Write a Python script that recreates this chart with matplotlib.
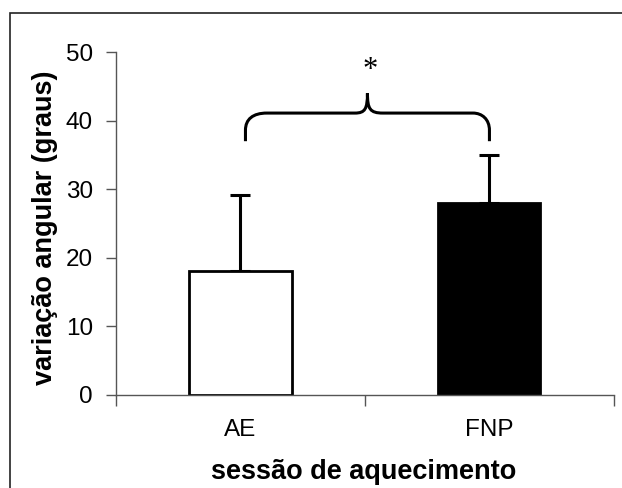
import matplotlib
matplotlib.use("Agg")
import matplotlib.pyplot as plt
from matplotlib.patches import Rectangle, PathPatch
from matplotlib.path import Path

plt.rcParams["font.family"] = ["Liberation Sans", "DejaVu Sans"]

categories = ["AE", "FNP"]
means = [18.1, 28.0]
sd_upper = [11.1, 7.0]
bar_colors = ["white", "black"]
y_ticks = [0, 10, 20, 30, 40, 50]

fig = plt.figure(figsize=(6.22, 4.88), dpi=100)
ax = fig.add_axes([0.1865, 0.1906, 0.8005, 0.7028])

x = list(range(len(categories)))
ax.bar(
    x,
    means,
    width=0.41,
    color=bar_colors,
    edgecolor="black",
    linewidth=2,
    zorder=2,
)
ax.errorbar(
    x,
    means,
    yerr=[[0] * len(means), sd_upper],
    fmt="none",
    ecolor="black",
    elinewidth=2.2,
    capsize=7,
    capthick=2.2,
    zorder=1,
)

# brace connecting the two groups
xl, xr, xm = x[0] + 0.02, x[1], 0.51
yb, yc, yh, yp = 37.0, 38.6, 41.1, 44.0
verts = [
    (xl, yb), (xl, yc),
    (xl, yh - 0.9), (xl + 0.03, yh), (xl + 0.086, yh),
    (xm - 0.05, yh),
    (xm - 0.01, yh), (xm, yh + 0.6), (xm, yp),
    (xm, yh + 0.6), (xm + 0.01, yh), (xm + 0.062, yh),
    (xr - 0.066, yh),
    (xr - 0.03, yh), (xr, yh - 0.9), (xr, yc),
    (xr, yb),
]
codes = [
    Path.MOVETO, Path.LINETO,
    Path.CURVE4, Path.CURVE4, Path.CURVE4,
    Path.LINETO,
    Path.CURVE4, Path.CURVE4, Path.CURVE4,
    Path.CURVE4, Path.CURVE4, Path.CURVE4,
    Path.LINETO,
    Path.CURVE4, Path.CURVE4, Path.CURVE4,
    Path.LINETO,
]
ax.add_patch(PathPatch(Path(verts, codes), fill=False, lw=2.2,
                       edgecolor="black", capstyle="butt", zorder=3))
ax.text(xm + 0.01, 47.3, "*", ha="center", va="center", fontsize=22,
        family=["Liberation Serif", "DejaVu Serif"])

ax.set_xlim(-0.5, 1.5)
ax.set_ylim(0, 50)
ax.set_yticks(y_ticks)
ax.set_xticks([-0.5, 0.5, 1.5])
ax.set_xticklabels([])
ax.set_xticks(x, minor=True)
ax.set_xticklabels(categories, minor=True)
ax.tick_params(axis="x", which="major", length=8, width=1, color="#555555",
               direction="out")
ax.tick_params(axis="x", which="minor", length=0, pad=17, labelsize=17.5)
ax.tick_params(axis="y", length=7, width=1, color="#555555", pad=9.5,
               labelsize=17.5)
for side in ["top", "right"]:
    ax.spines[side].set_visible(False)
for side in ["left", "bottom"]:
    ax.spines[side].set_color("#555555")
    ax.spines[side].set_linewidth(1)

fig.text(0.072, 0.533, "variação angular (graus)", rotation=90,
         ha="center", va="center", fontsize=19.5, fontweight="bold")
fig.text(0.584, 0.032, "sessão de aquecimento", ha="center", va="center",
         fontsize=19.5, fontweight="bold")

fig.patches.append(Rectangle((0.0153, -0.2), 1.2, 1.173, transform=fig.transFigure,
                             fill=False, edgecolor="#222222", linewidth=1.2))

fig.savefig("out.png", dpi=100)
